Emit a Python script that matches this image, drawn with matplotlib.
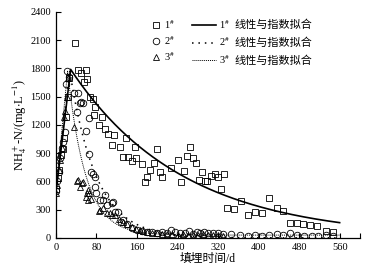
import numpy as np
import matplotlib
matplotlib.use("Agg")
import matplotlib.pyplot as plt
from matplotlib.lines import Line2D
from matplotlib.transforms import IdentityTransform

plt.rcParams['font.family'] = ['Liberation Serif', 'Noto Sans CJK SC']
plt.rcParams['mathtext.fontset'] = 'stix'

# measured NH4+-N concentration (mg/L) vs landfill time (d)
days1 = [1, 4, 7, 10, 13, 16, 19, 23, 26, 37, 43, 49, 55, 60, 62, 68, 73, 75, 78, 85, 90, 96,
         103, 110, 114, 126, 132, 139, 142, 150, 156, 159, 169, 175, 180, 186, 193, 199, 206, 209,
         228, 241, 247, 253, 259, 265, 270, 277, 283, 289, 295, 299, 306, 313, 320, 325, 331, 337,
         351, 366, 380, 393, 406, 421, 436, 449, 463, 476, 488, 502, 515, 533, 547]
vals1 = [520, 640, 720, 880, 940, 1060, 1280, 1500, 1700, 2070, 1785, 1755, 1660, 1785, 1690, 1500,
         1480, 1310, 1390, 1195, 1280, 1155, 1104, 987, 1093, 969, 863, 1058, 857, 821, 963, 846,
         786, 598, 651, 722, 800, 942, 704, 651, 740, 828, 598, 711, 870, 963, 846, 800, 616, 704,
         605, 605, 658, 679, 644, 517, 679, 315, 305, 393, 244, 279, 269, 428, 315, 290, 156, 156,
         150, 140, 130, 78, 67]

days2 = [1, 3, 6, 9, 12, 14, 18, 20, 21, 26, 35, 41, 44, 47, 49, 54, 60, 65, 66, 70, 74, 77, 77,
         80, 87, 93, 96, 100, 110, 113, 117, 123, 129, 132, 140, 150, 160, 170, 180, 190, 200, 210,
         220, 228, 235, 245, 255, 262, 270, 278, 285, 292, 300, 310, 320, 330, 345, 364, 380, 393,
         406, 421, 436, 449, 463, 476, 490, 505, 518, 533, 546]
vals2 = [500, 600, 700, 850, 960, 1023, 1129, 1635, 1776, 1706, 1536, 1341, 1536, 1436, 1447, 1436,
         1139, 1271, 892, 704, 679, 651, 545, 474, 403, 403, 460, 350, 375, 385, 279, 279, 173, 191,
         150, 110, 80, 70, 62, 65, 55, 60, 50, 85, 60, 48, 55, 70, 45, 60, 55, 65, 50, 55, 50, 40, 45,
         30, 25, 30, 25, 35, 40, 30, 56, 30, 25, 20, 25, 30, 20]

days3 = [0, 3, 6, 9, 12, 15, 18, 21, 24, 35, 42, 44, 47, 51, 54, 60, 62, 64, 64, 66, 70, 85, 87,
         93, 100, 106, 110, 116, 125, 132, 140, 150, 158, 165, 172, 180, 190, 200, 210, 220, 230,
         240, 250, 260, 270, 280, 290, 300, 310, 320, 330]
vals3 = [480, 560, 720, 830, 950, 1288, 1350, 1494, 1700, 1182, 608, 616, 545, 580, 598, 438, 481,
         510, 403, 481, 410, 290, 297, 315, 260, 262, 240, 244, 200, 170, 150, 120, 100, 85, 70, 65,
         55, 50, 45, 40, 45, 35, 40, 30, 35, 30, 40, 30, 35, 30, 25]

# linear rise + exponential decay fits: (start value, peak day, peak value, decay rate, offset)
fit1 = (480, 29, 1790, 0.00452, 0)
fit2 = (500, 27, 1780, 0.0190, 0)
fit3 = (490, 23, 1740, 0.0280, 30)

series_labels = [r'1$^{\#}$', r'2$^{\#}$', r'3$^{\#}$']
fit_label = '线性与指数拟合'


def fit_curve(p, t_end):
    y0, tp, yp, k, c = p
    t_up = np.linspace(0, tp, 20)
    t_dn = np.linspace(tp, t_end, 300)
    y_up = y0 + (yp + c - y0) * t_up / tp
    y_dn = yp * np.exp(-k * (t_dn - tp)) + c
    return np.r_[t_up, t_dn], np.r_[y_up, y_dn]


fig = plt.figure(figsize=(3.68, 2.77), dpi=100)
ax = fig.add_axes([0.152, 0.141, 0.826, 0.816])

mk = dict(ls='none', mfc='none', mec='black', mew=0.6)
ax.plot(days1, vals1, marker='s', ms=4.3, **mk)
ax.plot(days2, vals2, marker='o', ms=4.7, **mk)
ax.plot(days3, vals3, marker='^', ms=4.9, **mk)

styles = [dict(lw=1.2, ls='-'), dict(lw=1.1, ls=(0, (1, 3.2))), dict(lw=0.7, ls=(0, (1, 1)))]
for p, st in zip([fit1, fit2, fit3], styles):
    t, y = fit_curve(p, 560)
    ax.plot(t, y, color='black', **st)

ax.set_xlim(0, 600)
ax.set_ylim(0, 2400)
ax.set_xticks(range(0, 561, 80))
ax.set_xticks([600], minor=True)
ax.set_yticks(range(0, 2401, 300))
ax.tick_params(direction='in', labelsize=7.5, length=3.5, width=0.8)
ax.tick_params(which='minor', direction='in', length=3.5, width=0.8)
for s in ['top', 'right']:
    ax.spines[s].set_visible(False)
for s in ['left', 'bottom']:
    ax.spines[s].set_linewidth(0.9)

ax.set_xlabel('填埋时间/d', fontsize=8.5, labelpad=1)
ax.set_ylabel(r'NH$_4^+$-N/(mg$\cdot$L$^{-1}$)', fontsize=9, labelpad=1)

h_mk = [Line2D([], [], marker=m, ms=s, **mk) for m, s in [('s', 4.3), ('o', 4.7), ('^', 4.9)]]
fig.legend(h_mk, series_labels, loc='upper left',
           bbox_to_anchor=(0.413, 0.935), frameon=False, fontsize=7.5,
           handlelength=0.8, handletextpad=0.4, labelspacing=0.3,
           borderpad=0, borderaxespad=0)

h_ln = [Line2D([], [], color='black', **st) for st in styles]
leg2 = fig.legend(h_ln, series_labels,
                  loc='upper left', bbox_to_anchor=(0.522, 0.935), frameon=False, fontsize=7.5,
                  handlelength=2.3, handletextpad=0.3, labelspacing=0.45,
                  borderpad=0, borderaxespad=0)

# the CJK part is drawn next to each legend label (mathtext has no CJK glyphs)
fig.canvas.draw()
for txt in leg2.get_texts():
    bb = txt.get_window_extent()
    fig.text(bb.x1 + 4, bb.y0 + 2.5, fit_label, fontsize=8, va='baseline',
             family='Noto Sans CJK SC', transform=IdentityTransform())

fig.savefig('out.png', dpi=100)
